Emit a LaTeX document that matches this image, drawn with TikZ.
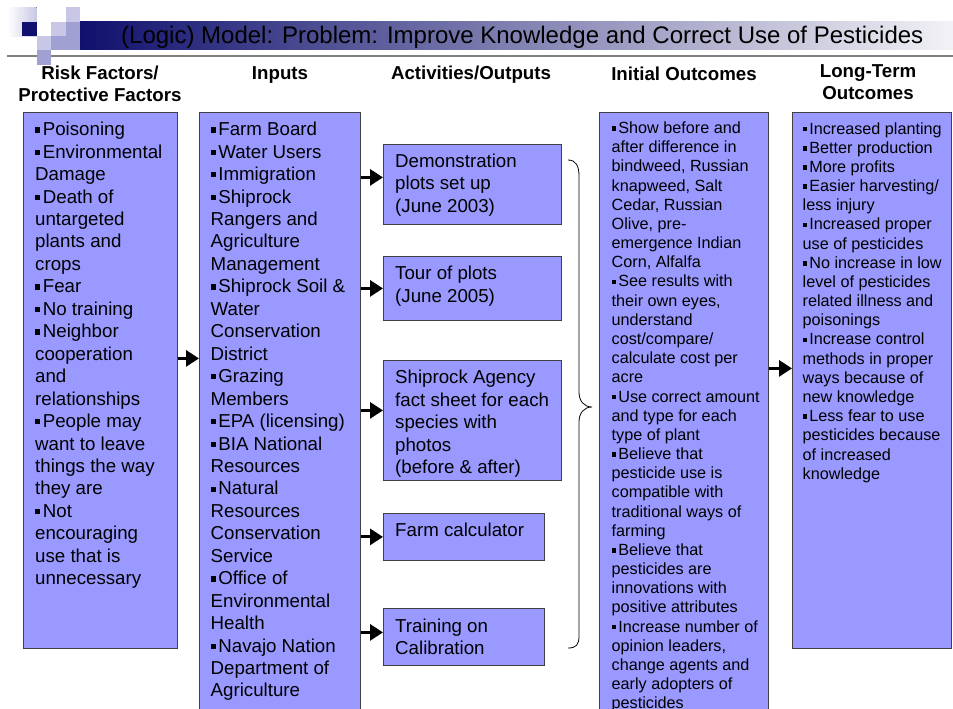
\documentclass[tikz,border=0pt]{standalone}
\usepackage{fontspec}
\setmainfont{Liberation Sans}
\usetikzlibrary{arrows.meta}
\definecolor{boxblue}{HTML}{9999FF}
\definecolor{navy}{RGB}{16,16,110}
\definecolor{lav}{RGB}{200,200,230}
\definecolor{midlav}{RGB}{160,160,210}
\newcommand{\bul}{\rule[0.17em]{0.28em}{0.28em}\hspace{0.13em}}

\begin{document}
\begin{tikzpicture}[x=1pt,y=-1pt,
  box/.style = {draw=black!75, fill=boxblue, line width=0.8pt, anchor=north west, inner sep=0pt},
  txt/.style = {anchor=north west, inner sep=0pt, align=left, font=\fontsize{18.7}{22.45}\selectfont},
  small/.style = {txt, font=\fontsize{16.2}{19.17}\selectfont},
  hdr/.style = {anchor=north, inner sep=0pt, align=center, font=\bfseries\fontsize{18.7}{22}\selectfont},
  arr/.style = {-{Triangle[length=13pt,width=16pt]}, line width=3pt}]
\useasboundingbox (0,0) rectangle (953,709);

% title bar and logo
\fill[left color=navy, right color={rgb,255:red,242;green,242;blue,246}] (80,22) rectangle (953,50);
\draw[black!50, line width=1.8pt] (7,56) -- (953,56);
\fill[left color=white, right color=lav] (7.5,7.5) rectangle (36.5,36.5);
\fill[navy] (22,22) rectangle (36.5,36.5);
\fill[lav] (65.5,7.5) rectangle (80,22);
\fill[lav] (51,22) rectangle (65.5,36.5);
\fill[midlav] (65.5,22) rectangle (80,50);
\fill[lav] (36.5,36.5) rectangle (51,50);
\fill[midlav] (51,36.5) rectangle (65.5,50);
\fill[midlav] (36.5,50) rectangle (51,65);
\node[anchor=base west, inner sep=0pt, font=\fontsize{24}{28}\selectfont] (title) at (121,43.6)
  {(Logic) Model: Problem: Improve Knowledge and Correct Use of Pesticides};

% column headers
\node[hdr] (h1) at (100,63.6) {\strut Risk Factors/\\Protective Factors};
\node[hdr] (h2) at (280,63.6) {\strut Inputs};
\node[hdr] (h3) at (471,63.6) {\strut Activities/Outputs};
\node[hdr] (h4) at (684,64.6) {\strut Initial Outcomes};
\node[hdr] (h5) at (868,61.6) {\strut Long-Term\\Outcomes};

% boxes
\node[box, minimum width=154pt, minimum height=536pt] (risk) at (23,112) {};
\node[box, minimum width=161pt, minimum height=610pt] (inputs) at (199,112) {};
\node[box, minimum width=178pt, minimum height=80pt] (demo) at (383,144) {};
\node[box, minimum width=178pt, minimum height=64pt] (tour) at (383,256) {};
\node[box, minimum width=178pt, minimum height=120pt] (sheet) at (383,360) {};
\node[box, minimum width=161pt, minimum height=47pt] (calc) at (383,513) {};
\node[box, minimum width=161pt, minimum height=57pt] (train) at (383,608) {};
\node[box, minimum width=169pt, minimum height=610pt] (initial) at (599,112) {};
\node[box, minimum width=159pt, minimum height=536pt] (lterm) at (792,112) {};

% box texts
\node[txt] (risk-t) at ([shift={(12pt,-7.8pt)}]risk.north west) {\strut\bul Poisoning\\
\bul Environmental\\Damage\\\bul Death of\\untargeted\\plants and\\crops\\
\bul Fear\\\bul No training\\\bul Neighbor\\cooperation\\and\\relationships\\
\bul People may\\want to leave\\things the way\\they are\\
\bul Not\\encouraging\\use that is\\unnecessary};
\node[txt] (inputs-t) at ([shift={(11.5pt,-7.8pt)}]inputs.north west) {\strut\bul Farm Board\\
\bul Water Users\\\bul Immigration\\\bul Shiprock\\Rangers and\\Agriculture\\Management\\
\bul Shiprock Soil \&\\Water\\Conservation\\District\\\bul Grazing\\Members\\
\bul EPA (licensing)\\\bul BIA National\\Resources\\\bul Natural\\Resources\\Conservation\\Service\\
\bul Office of\\Environmental\\Health\\\bul Navajo Nation\\Department of\\Agriculture};
\node[txt] (demo-t) at ([shift={(12pt,-7.3pt)}]demo.north west) {\strut Demonstration\\plots set up\\(June 2003)};
\node[txt] (tour-t) at ([shift={(12pt,-8pt)}]tour.north west) {\strut Tour of plots\\(June 2005)};
\node[txt] (sheet-t) at ([shift={(12pt,-8pt)}]sheet.north west) {\strut Shiprock Agency\\fact sheet for each\\species with\\photos\\(before \& after)};
\node[txt] (calc-t) at ([shift={(12pt,-7.5pt)}]calc.north west) {\strut Farm calculator};
\node[txt] (train-t) at ([shift={(12pt,-8.3pt)}]train.north west) {\strut Training on\\Calibration};
\node[small] (initial-t) at ([shift={(12.5pt,-8pt)}]initial.north west) {\strut\bul Show before and\\
after difference in\\bindweed, Russian\\knapweed, Salt\\Cedar, Russian\\Olive, pre-\\
emergence Indian\\Corn, Alfalfa\\\bul See results with\\their own eyes,\\understand\\
cost/compare/\\calculate cost per\\acre\\\bul Use correct amount\\and type for each\\
type of plant\\\bul Believe that\\pesticide use is\\compatible with\\traditional ways of\\
farming\\\bul Believe that\\pesticides are\\innovations with\\positive attributes\\
\bul Increase number of\\opinion leaders,\\change agents and\\early adopters of\\pesticides};
\node[small] (lterm-t) at ([shift={(10.5pt,-8.5pt)}]lterm.north west) {\strut\bul Increased planting\\
\bul Better production\\\bul More profits\\\bul Easier harvesting/\\less injury\\
\bul Increased proper\\use of pesticides\\\bul No increase in low\\level of pesticides\\
related illness and\\poisonings\\\bul Increase control\\methods in proper\\ways because of\\
new knowledge\\\bul Less fear to use\\pesticides because\\of increased\\knowledge};

% arrows
\coordinate (risk-out) at ([yshift=22pt]risk.east);
\draw[arr] (risk-out) -- (risk-out -| inputs.west);
\coordinate (demo-in) at ([yshift=7pt]demo.west);
\draw[arr] (inputs.east |- demo-in) -- (demo-in);
\draw[arr] (inputs.east |- tour.west) -- (tour.west);
\coordinate (sheet-in) at ([yshift=10pt]sheet.west);
\draw[arr] (inputs.east |- sheet-in) -- (sheet-in);
\draw[arr] (inputs.east |- calc.west) -- (calc.west);
\coordinate (train-in) at ([yshift=4.5pt]train.west);
\draw[arr] (inputs.east |- train-in) -- (train-in);
\coordinate (lterm-in) at ([yshift=12pt]lterm.west);
\draw[arr] (initial.east |- lterm-in) -- (lterm-in);

% brace
\draw[line width=0.8pt] (568,160) .. controls (576,160) and (579,166) .. (579,176) -- (579,392)
  .. controls (579,401) and (584,407) .. (592,407) .. controls (584,407) and (579,413) .. (579,422)
  -- (579,636) .. controls (579,645) and (576,648) .. (568,648);
\end{tikzpicture}
\end{document}
